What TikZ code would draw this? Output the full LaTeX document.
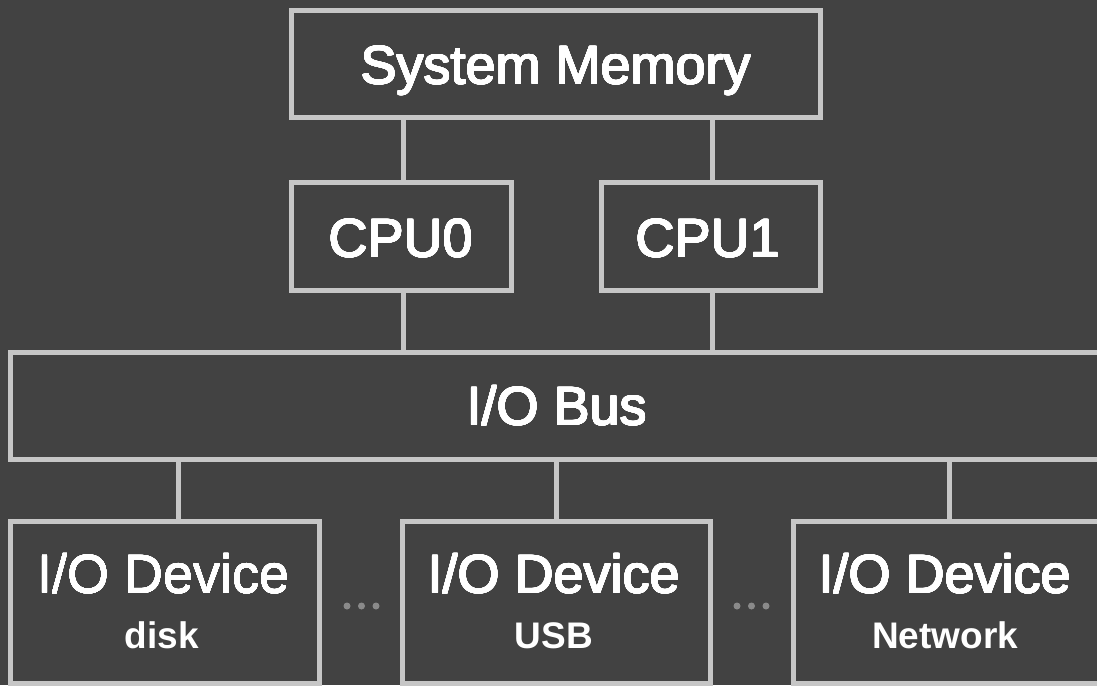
\documentclass[tikz,border=0pt]{standalone}
\usepackage{fontspec}
\usepackage{contour}
\setmainfont{Liberation Sans}
\contournumber{24}
\definecolor{bgcol}{HTML}{424242}
\definecolor{edgecol}{HTML}{C6C6C6}
\definecolor{dotcol}{HTML}{8A8A8A}
% white label text with a thin white outline for a medium weight
\newcommand{\heavytext}[1]{\contourlength{0.3pt}\contour{white}{#1}}
\tikzset{
  box/.style={rectangle, draw=edgecol, line width=5pt, fill=bgcol, inner sep=0pt},
  link/.style={draw=edgecol, line width=5pt},
  title/.style={anchor=base, text=white, inner sep=0pt, font=\fontsize{54}{60}\selectfont},
  subtitle/.style={anchor=base, text=white, inner sep=0pt, font=\fontsize{37}{42}\selectfont\bfseries},
  gapdot/.style={circle, fill=dotcol, inner sep=0pt, minimum size=7pt},
}
\begin{document}
\begin{tikzpicture}[x=1pt, y=-1pt]
  % canvas
  \fill[bgcol] (0,0) rectangle (1097,685);
  \useasboundingbox (0,0) rectangle (1097,685);

  % boxes
  \node[box, minimum width=529pt, minimum height=106pt] (mem) at (555.5,64) {};
  \node[box, minimum width=220pt, minimum height=108pt] (cpu0) at (401,236) {};
  \node[box, minimum width=219pt, minimum height=108pt] (cpu1) at (710.5,236) {};
  \node[box, minimum width=1095pt, minimum height=107pt] (bus) at (557.5,405.5) {};
  \node[box, minimum width=309pt, minimum height=162pt] (dev1) at (164.5,602) {};
  \node[box, minimum width=308pt, minimum height=162pt] (dev2) at (556,602) {};
  \node[box, minimum width=309pt, minimum height=162pt] (dev3) at (947.5,602) {};

  % connectors
  \draw[link] ([xshift=2pt]cpu0.north) -- ([xshift=2pt]cpu0.north |- mem.south);
  \draw[link] ([xshift=1.5pt]cpu1.north) -- ([xshift=1.5pt]cpu1.north |- mem.south);
  \draw[link] ([xshift=2pt]cpu0.south) -- ([xshift=2pt]cpu0.south |- bus.north);
  \draw[link] ([xshift=1.5pt]cpu1.south) -- ([xshift=1.5pt]cpu1.south |- bus.north);
  \draw[link] ([xshift=13.5pt]dev1.north) -- ([xshift=13.5pt]dev1.north |- bus.south);
  \draw[link] (dev2.north) -- (dev2.north |- bus.south);
  \draw[link] ([xshift=1.5pt]dev3.north) -- ([xshift=1.5pt]dev3.north |- bus.south);

  % labels
  \node[title] (memtxt) at (556,84) {\heavytext{System Memory}};
  \node[title] (cpu0txt) at (401,257) {\heavytext{CPU0}};
  \node[title] (cpu1txt) at (708,257) {\heavytext{CPU1}};
  \node[title] (bustxt) at (557,425) {\heavytext{I/O Bus}};
  \node[title] (dev1txt) at (163.5,593) {\heavytext{I/O Device}};
  \node[title] (dev2txt) at (554,593) {\heavytext{I/O Device}};
  \node[title] (dev3txt) at (945,593) {\heavytext{I/O Device}};
  \node[subtitle] (dev1sub) at (162,648) {disk};
  \node[subtitle] (dev2sub) at (554,648) {USB};
  \node[subtitle] (dev3sub) at (945,648) {Network};

  % ellipses between devices
  \node[gapdot] (g1a) at (347,606) {};
  \node[gapdot] (g1b) at (361.5,606) {};
  \node[gapdot] (g1c) at (376,606) {};
  \node[gapdot] (g2a) at (737,606) {};
  \node[gapdot] (g2b) at (751.5,606) {};
  \node[gapdot] (g2c) at (766,606) {};
\end{tikzpicture}
\end{document}
